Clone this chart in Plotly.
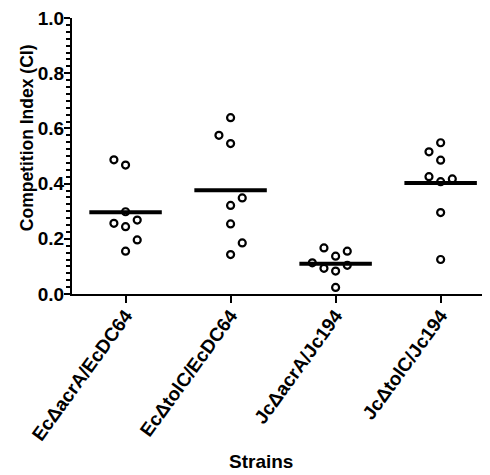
import numpy as np
import plotly.graph_objects as go

# ---- data ----
strains = ["EcΔacrA/EcDC64", "EcΔtolC/EcDC64", "JcΔacrA/Jc194", "JcΔtolC/Jc194"]
ec_acra = [0.486, 0.467, 0.298, 0.256, 0.244, 0.268, 0.196, 0.155]
ec_tolc = [0.639, 0.575, 0.545, 0.348, 0.321, 0.254, 0.185, 0.143]
jc_acra = [0.167, 0.155, 0.137, 0.113, 0.093, 0.083, 0.104, 0.024]
jc_tolc = [0.548, 0.515, 0.485, 0.425, 0.417, 0.407, 0.295, 0.125]
y_ticks = [0.0, 0.2, 0.4, 0.6, 0.8, 1.0]

# scatter column slots (dot-plot layout)
slots = [
    [-1, 0, 0, -1, 0, 1, 1, 0],
    [0, -1, 0, 1, 0, 0, 1, 0],
    [-1, 1, 0, -2, -1, 0, 1, 0],
    [0, -1, 0, -1, 1, 0, 0, 0],
]
groups = [ec_acra, ec_tolc, jc_acra, jc_tolc]

SLOT_W = 0.111
HALF = 0.345
FAM = "Liberation Sans, Arial, Helvetica, sans-serif"


def font(size):
    return dict(family=FAM, size=size, color="black", weight="bold")


fig = go.Figure()
for i, (vals, sl) in enumerate(zip(groups, slots)):
    m = float(np.mean(vals))
    fig.add_trace(go.Scatter(
        x=[i - HALF, i + HALF], y=[m, m], mode="lines",
        line=dict(color="black", width=4), showlegend=False, hoverinfo="skip"))
    fig.add_trace(go.Scatter(
        x=[i + s * SLOT_W for s in sl], y=vals, mode="markers",
        marker=dict(symbol="circle-open", size=7, color="black", line=dict(width=2.2, color="black")),
        showlegend=False))

# page body has an 8px default margin: size the figure so the plot lands where the reference has it
fig.update_layout(
    width=482, height=467,
    margin=dict(l=64, r=0, t=7, b=181),
    paper_bgcolor="white", plot_bgcolor="white",
    font=font(18),
    xaxis=dict(
        range=[-0.51, 3.47], tickvals=list(range(len(strains))), ticktext=strains,
        tickangle=-54, showline=True, linecolor="black", linewidth=2,
        ticks="outside", ticklen=7, tickwidth=2, tickcolor="black",
        ticklabelstandoff=-6,
        showgrid=False, zeroline=False, tickfont=font(19),
    ),
    yaxis=dict(
        range=[0, 1], tickvals=y_ticks, tickformat=".1f",
        showline=True, linecolor="black", linewidth=2,
        ticks="outside", ticklen=6, tickwidth=2, tickcolor="black",
        ticklabelstandoff=-4, ticklabeloverflow="allow",
        minor=dict(dtick=0.025, ticks="outside", ticklen=4, tickwidth=1.5, tickcolor="black"),
        showgrid=False, zeroline=False, tickfont=font(19),
    ),
    annotations=[
        dict(text="Competition Index (CI)", textangle=-90, xref="paper", yref="paper",
             x=(27 - 72) / 418, y=0.5645, xanchor="center", yanchor="middle",
             showarrow=False, font=font(17.5)),
        dict(text="Strains", xref="paper", yref="paper",
             x=(261 - 72) / 418, y=(294 - 463) / 279, xanchor="center", yanchor="middle",
             showarrow=False, font=font(19)),
    ],
)

fig.write_html("out.html")
